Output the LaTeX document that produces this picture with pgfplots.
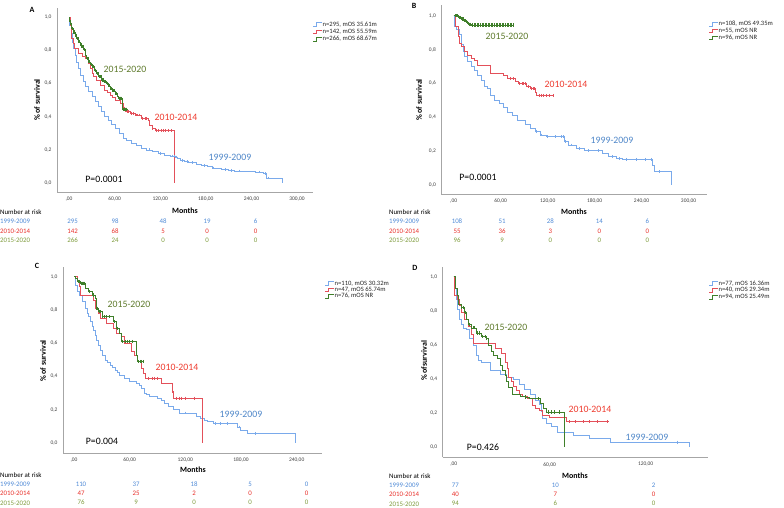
\documentclass[border=0pt]{standalone}
\usepackage{pgfplots}
\pgfplotsset{compat=1.18}
\usepackage{fontspec}
\setmainfont{Carlito}
\definecolor{lbl}{HTML}{7AAAEB}
\definecolor{lrd}{HTML}{E3505A}
\definecolor{lgr}{HTML}{3F7F2A}
\definecolor{tbl}{HTML}{4E86C8}
\definecolor{trd}{HTML}{EE3B2E}
\definecolor{tgr}{HTML}{5E7A2C}
\definecolor{rbl}{HTML}{4F8AD6}
\definecolor{rrd}{HTML}{E8302A}
\definecolor{rgr}{HTML}{7F9C3E}
\newcommand\fl{\fontsize{9.8}{11}\selectfont}
\newcommand\fr{\fontsize{6.9}{7.5}\selectfont}
\newcommand\fg{\fontsize{6.6}{7}\selectfont}
\newcommand\fa{\bfseries\fontsize{8}{9}\selectfont}
\newcommand\ft{\fontsize{5.5}{6}\selectfont}
\pgfplotsset{km/.style={scale only axis, axis lines=left,
  axis line style={-, draw=gray!70, line width=0.6pt},
  major tick length=0pt, tick style={draw=none},
  ticklabel style={font=\ft, text=black!75},
  ytick={0,0.2,0.4,0.6,0.8,1.0},
  yticklabels={{0,0},{0,2},{0,4},{0,6},{0,8},{1,0}},
  yticklabel style={xshift=-2pt},
  xticklabel style={yshift=-1.5pt}},
  kmb/.style={const plot, color=lbl, line width=0.6pt},
  kmr/.style={const plot, color=lrd, line width=0.6pt},
  kmg/.style={const plot, color=lgr, line width=0.6pt},
  cb/.style={only marks, mark=|, mark size=1.4pt, color=lbl, mark options={line width=0.5pt}},
  cr/.style={only marks, mark=|, mark size=1.4pt, color=lrd, mark options={line width=0.5pt}},
  cg/.style={only marks, mark=|, mark size=1.6pt, color=lgr, mark options={line width=0.7pt}}}
\begin{document}
\begin{tikzpicture}
\path[use as bounding box] (0,0) rectangle (784bp,-508bp);
% ---------------- A ----------------
\begin{axis}[km, at={(57bp,-192bp)}, anchor=south west, width=256bp, height=184bp,
  xmin=-15.8, xmax=321, ymin=-0.054, ymax=1.054,
  xtick={0,60,120,180,240,300}, xticklabels={{,00},{60,00},{120,00},{180,00},{240,00},{300,00}}]
\addplot[kmb] coordinates {(0,1.0)(1,0.95)(2.6,0.90)(4.4,0.85)(6,0.81)(7.9,0.77)(10,0.73)(12.3,0.69)(15,0.65)(18.9,0.61)(22,0.58)(25.4,0.55)(30,0.52)(34,0.49)(38.6,0.46)(43,0.43)(47,0.40)(52,0.38)(56,0.355)(60.5,0.33)(66,0.30)(71.5,0.27)(76,0.255)(82,0.24)(88,0.225)(95.6,0.21)(102,0.20)(109,0.19)(118,0.18)(126,0.17)(133,0.163)(139.5,0.157)(143,0.147)(146,0.137)(152,0.13)(157,0.122)(168,0.114)(174.6,0.106)(182,0.098)(188,0.09)(195,0.086)(201,0.082)(210,0.077)(218,0.072)(232,0.069)(245,0.066)(256,0.056)(260,0.03)(280,0)};
\addplot[kmr] coordinates {(0,1.0)(1.3,0.95)(2.5,0.91)(3.5,0.87)(5,0.84)(7,0.81)(12.3,0.78)(17,0.765)(21,0.75)(25.4,0.72)(28,0.69)(30,0.66)(32,0.64)(36,0.62)(41,0.59)(47,0.56)(50,0.545)(54,0.53)(57,0.515)(60.5,0.50)(67,0.48)(71.5,0.45)(74,0.43)(80,0.42)(87,0.41)(95.6,0.39)(104,0.38)(105.7,0.35)(109,0.33)(113,0.317)(138,0)};
\addplot[kmg] coordinates {(0,1.0)(1,0.975)(2,0.955)(3.5,0.93)(5,0.91)(7.9,0.89)(10,0.87)(12.3,0.85)(14.5,0.835)(16.7,0.82)(19,0.805)(21,0.79)(22,0.77)(23,0.75)(26,0.73)(28,0.715)(30,0.70)(33,0.68)(36,0.66)(39,0.64)(43,0.62)(46,0.61)(49.6,0.60)(52,0.585)(54,0.57)(57,0.555)(60.5,0.54)(63,0.525)(65,0.51)(70.5,0.445)(77,0.44)};
\addplot[cb] coordinates {(105,0.20)(120,0.18)(136,0.163)(138,0.163)(140,0.157)(141,0.157)(149,0.137)(155,0.13)(162,0.122)(178,0.106)(190,0.09)(205,0.082)(214,0.077)(224,0.072)(250,0.066)(258,0.056)(262,0.03)};
\addplot[cr] coordinates {(73,0.45)(76,0.43)(78,0.43)(82,0.42)(85,0.42)(88,0.41)(90,0.41)(93,0.41)(97,0.39)(100,0.39)(102,0.39)(110,0.33)(115,0.317)(118,0.317)(121,0.317)(124,0.317)(127,0.317)(131,0.317)(134,0.317)};
\addplot[cg] coordinates {(1.5,0.975)(2.5,0.955)(3,0.955)(4,0.93)(4.5,0.93)(6,0.91)(7,0.91)(8.5,0.89)(9.5,0.89)(11,0.87)(12,0.87)(13,0.85)(14,0.85)(15,0.835)(16,0.835)(17.5,0.82)(18.5,0.82)(20,0.805)(21.5,0.79)(24,0.75)(25,0.75)(27,0.73)(29,0.715)(31,0.70)(32,0.70)(34,0.68)(35,0.68)(37,0.66)(38,0.66)(40,0.64)(41,0.64)(42,0.64)(44,0.62)(45,0.62)(47,0.61)(48,0.61)(50,0.60)(51,0.60)(53,0.585)(55,0.57)(56,0.57)(58,0.555)(59,0.555)(61,0.54)(62,0.54)(64,0.525)(66,0.51)(67,0.51)(68,0.51)(69,0.51)(71.5,0.445)(73,0.445)(74,0.445)(75,0.445)(76,0.445)};
\end{axis}
% ---------------- B ----------------
\begin{axis}[km, at={(441.3bp,-194bp)}, anchor=south west, width=265.7bp, height=189bp,
  xmin=-15.8, xmax=323.5, ymin=-0.053, ymax=1.063,
  xtick={0,60,120,180,240,300}, xticklabels={{,00},{60,00},{120,00},{180,00},{240,00},{300,00}}]
\addplot[kmb] coordinates {(0,1.0)(1.3,0.94)(3.3,0.92)(7.5,0.89)(9.6,0.83)(11.7,0.79)(13.8,0.76)(18,0.73)(22,0.70)(26,0.68)(30.5,0.65)(34.7,0.62)(39,0.58)(43,0.57)(47,0.53)(51.5,0.50)(57.7,0.48)(64,0.46)(68,0.43)(74.5,0.41)(81,0.38)(91,0.36)(97.5,0.335)(104,0.315)(110,0.295)(118,0.285)(141,0.256)(146,0.236)(156,0.217)(166.5,0.203)(189.5,0.187)(198,0.167)(208,0.157)(215,0.152)(254,0.118)(256.5,0.079)(278,0)};
\addplot[kmr] coordinates {(0,1.0)(2,0.935)(5.4,0.876)(7.5,0.837)(9.6,0.817)(13.8,0.787)(18,0.768)(22,0.748)(26,0.738)(30.5,0.709)(47,0.66)(64,0.645)(68,0.63)(78.7,0.61)(83,0.60)(93,0.58)(98,0.57)(104,0.55)(106,0.53)(128,0.53)};
\addplot[kmg] coordinates {(0,1.0)(6,0.99)(10,0.98)(13,0.97)(16,0.96)(19,0.95)(22,0.945)(76,0.945)};
\addplot[cb] coordinates {(106,0.315)(112,0.295)(120,0.285)(130,0.285)(138,0.285)(140,0.285)(143,0.256)(150,0.236)(160,0.217)(172,0.203)(185,0.203)(203,0.167)(212,0.157)(220,0.152)(233,0.152)(245,0.152)(252,0.152)(262,0.079)};
\addplot[cr] coordinates {(72,0.63)(76,0.63)(84,0.60)(87,0.60)(89,0.60)(91,0.60)(95,0.58)(99,0.57)(101,0.57)(103,0.57)(109,0.53)(112,0.53)(115,0.53)(118,0.53)(122,0.53)(127,0.53)};
\addplot[cg] coordinates {(2,1.0)(4,1.0)(5,1.0)(7,0.99)(8,0.99)(9,0.99)(11,0.98)(12,0.98)(14,0.97)(15,0.97)(17,0.96)(18,0.96)(20,0.95)(21,0.95)(24,0.945)(26,0.945)(28,0.945)(30,0.945)(32,0.945)(34,0.945)(36,0.945)(38,0.945)(40,0.945)(42,0.945)(44,0.945)(46,0.945)(48,0.945)(50,0.945)(52,0.945)(54,0.945)(56,0.945)(58,0.945)(60,0.945)(62,0.945)(64,0.945)(66,0.945)(68,0.945)(70,0.945)(72,0.945)(74,0.945)(76,0.945)};
\end{axis}
% ---------------- C ----------------
\begin{axis}[km, at={(63bp,-453bp)}, anchor=south west, width=258.7bp, height=186.3bp,
  xmin=-11.9, xmax=267, ymin=-0.06, ymax=1.06,
  xtick={0,60,120,180,240}, xticklabels={{,00},{60,00},{120,00},{180,00},{240,00}}]
\addplot[kmb] coordinates {(0,1.0)(1.8,0.95)(3.5,0.91)(6,0.89)(8.8,0.85)(12.3,0.81)(14,0.78)(15.8,0.76)(17.5,0.73)(19.4,0.70)(21,0.675)(23,0.65)(24.5,0.62)(26.4,0.59)(28,0.56)(30,0.53)(33.5,0.50)(36,0.485)(38.7,0.47)(41,0.455)(44,0.44)(46.5,0.425)(49,0.41)(54.6,0.39)(60,0.37)(67,0.36)(70,0.345)(72,0.33)(75.7,0.30)(78,0.29)(81,0.28)(90,0.27)(94,0.255)(97,0.24)(102,0.22)(107,0.20)(114,0.18)(125,0.176)(132,0.16)(135.6,0.146)(140,0.138)(144,0.13)(150,0.116)(176,0.096)(179.6,0.076)(186.6,0.056)(239,0)};
\addplot[kmr] coordinates {(0,1.0)(3.5,0.97)(5.3,0.94)(7,0.89)(21,0.86)(23,0.81)(26.4,0.78)(28,0.75)(35,0.72)(42,0.69)(46,0.66)(51,0.64)(54.6,0.60)(61.6,0.55)(65,0.53)(68.7,0.49)(72,0.45)(75,0.42)(76.4,0.39)(94,0.36)(105.6,0.31)(107,0.27)(138,0)};
\addplot[kmg] coordinates {(0,1.0)(1.8,0.99)(3.5,0.97)(7,0.96)(12.3,0.93)(15.8,0.91)(19.4,0.89)(23,0.87)(23.6,0.81)(26.4,0.79)(30,0.76)(42,0.73)(46,0.69)(49,0.66)(51,0.61)(67,0.53)(68.7,0.49)(75,0.49)};
\addplot[cb] coordinates {(120,0.18)(152,0.116)(158,0.116)(165,0.116)(178,0.096)(195,0.056)};
\addplot[cr] coordinates {(80,0.39)(84,0.39)(86,0.39)(90,0.39)(106,0.31)(110,0.27)(113,0.27)(116,0.27)(120,0.27)(130,0.27)};
\addplot[cg] coordinates {(4.5,0.97)(5.5,0.97)(8,0.96)(9,0.96)(10,0.96)(11,0.96)(17,0.91)(21,0.89)(24.5,0.81)(25.5,0.81)(27,0.79)(28,0.79)(31,0.76)(33,0.76)(35,0.76)(38,0.76)(43,0.73)(47,0.69)(52,0.61)(55,0.61)(57,0.61)(60,0.61)(63,0.61)(69.5,0.49)(71,0.49)(73,0.49)(75,0.49)};
\end{axis}
% ---------------- D ----------------
\begin{axis}[km, at={(442.7bp,-457.3bp)}, anchor=south west, width=265.3bp, height=190bp,
  xmin=-6.9, xmax=159, ymin=-0.059, ymax=1.055,
  xtick={0,60,120}, xticklabels={{,00},{60,00},{120,00}}]
\addplot[kmb] coordinates {(0,1.0)(0.4,0.93)(1.5,0.87)(2.5,0.81)(3.6,0.75)(4.7,0.72)(5.7,0.70)(7.8,0.69)(10,0.64)(12,0.60)(14.2,0.54)(15.3,0.51)(17.4,0.50)(22.7,0.45)(29,0.43)(33,0.41)(37.5,0.40)(40.7,0.37)(44,0.34)(48,0.31)(51,0.275)(53.4,0.25)(54.5,0.21)(55.5,0.17)(57.6,0.14)(61,0.12)(65,0.09)(74.6,0.07)(85,0.05)(98,0.03)(147,0)};
\addplot[kmr] coordinates {(0,1.0)(0.4,0.89)(2.5,0.87)(3.6,0.83)(4.7,0.79)(6.8,0.75)(9,0.71)(11,0.66)(12,0.61)(25.8,0.58)(30,0.55)(32,0.50)(33.3,0.46)(34.3,0.41)(36,0.385)(37.5,0.36)(39,0.335)(40.7,0.31)(43,0.30)(46,0.285)(49,0.246)(51,0.23)(53.4,0.217)(55.5,0.19)(59.7,0.178)(70.3,0.15)(97,0.15)};
\addplot[kmg] coordinates {(0,1.0)(0.8,0.93)(2,0.89)(3,0.84)(4.7,0.82)(6.8,0.79)(7.8,0.75)(9,0.72)(11,0.70)(14.2,0.67)(17.4,0.65)(20.5,0.64)(21.6,0.60)(23.7,0.56)(25,0.54)(27,0.52)(29,0.48)(30.5,0.45)(32,0.42)(33,0.385)(34.3,0.35)(36.4,0.31)(41.7,0.30)(45,0.295)(47,0.285)(54.4,0.256)(56,0.23)(57.6,0.207)(69,0)};
\addplot[cb] coordinates {(140,0.03)};
\addplot[cr] coordinates {(72,0.15)(76,0.15)(81,0.15)(85,0.15)(90,0.15)(96,0.15)};
\addplot[cg] coordinates {(5,0.82)(6,0.82)(7.2,0.79)(9.5,0.72)(12,0.70)(13,0.70)(15,0.67)(16,0.67)(18,0.65)(19.5,0.65)(20.5,0.64)(45,0.295)(53,0.285)(59,0.207)(61,0.207)(63,0.207)(66,0.207)};
\end{axis}
% ---------------- annotations ----------------
\begin{scope}[x=1bp,y=-1bp]
% panel letters
\node[font=\fa] at (32,10) {A};
\node[font=\fa] at (414,6) {B};
\node[font=\fa] at (37,266) {C};
\node[font=\fa] at (415,268) {D};
% axis titles
\node[font=\fa, rotate=90] at (37,100) {\% of survival};
\node[font=\fa, rotate=90] at (419,100) {\% of survival};
\node[font=\fa, rotate=90] at (43,361) {\% of survival};
\node[font=\fa, rotate=90] at (424,361) {\% ofsurvival};
\node[font=\fa] at (185,211) {Months};
\node[font=\fa] at (574,212) {Months};
\node[font=\fa] at (193,470) {Months};
\node[font=\fa] at (575,476) {Months};
% curve labels
\node[font=\fl, text=tgr] at (125,69) {2015-2020};
\node[font=\fl, text=trd] at (176,117) {2010-2014};
\node[font=\fl, text=tbl] at (230,157) {1999-2009};
\node[font=\fl] at (104,179) {P=0.0001};
\node[font=\fl, text=tgr] at (507,36) {2015-2020};
\node[font=\fl, text=trd] at (566,84) {2010-2014};
\node[font=\fl, text=tbl] at (612,140) {1999-2009};
\node[font=\fl] at (478,177) {P=0.0001};
\node[font=\fl, text=tgr] at (129,304) {2015-2020};
\node[font=\fl, text=trd] at (177,367) {2010-2014};
\node[font=\fl, text=tbl] at (241,414) {1999-2009};
\node[font=\fl] at (102,441) {P=0.004};
\node[font=\fl, text=tgr] at (506,327) {2015-2020};
\node[font=\fl, text=trd] at (590,409) {2010-2014};
\node[font=\fl, text=tbl] at (647,437) {1999-2009};
\node[font=\fl] at (483,447) {P=0.426};
% legends
\foreach \lx/\ly/\c/\t in {313/24.3/lbl/{n=295, mOS 35.61m}, 313/31.7/lrd/{n=142, mOS 55.59m}, 313/39/lgr/{n=266, mOS 68.67m},
  709/24/lbl/{n=108, mOS 49.35m}, 709/30.6/lrd/{n=55, mOS NR}, 709/37.6/lgr/{n=96, mOS NR},
  325/283.3/lbl/{n=110, mOS 30.32m}, 325/289.6/lrd/{n=47, mOS 65.74m}, 325/296/lgr/{n=76, mOS NR},
  709/283.3/lbl/{n=77, mOS 16.36m}, 709/290.2/lrd/{n=40, mOS 29.34m}, 709/297.2/lgr/{n=94, mOS 25.49m}}{
  \draw[\c, line width=0.5pt] (\lx,\ly+1.8) -- (\lx+3,\ly+1.8) -- (\lx+3,\ly-1.8) -- (\lx+9,\ly-1.8);
  \node[font=\fg, anchor=west, inner sep=0pt, text=black!85] at (\lx+9.5,\ly) {\t};
}
% number at risk tables
\foreach \ox/\oy in {0/212, 389/212, 0/474.7, 389/475.7}{
  \node[font=\fr, anchor=west, inner sep=0pt] at (\ox,\oy) {Number at risk};
  \node[font=\fr, anchor=west, inner sep=0pt, text=rbl] at (\ox,\oy+9.5) {1999-2009};
  \node[font=\fr, anchor=west, inner sep=0pt, text=rrd] at (\ox,\oy+19) {2010-2014};
  \node[font=\fr, anchor=west, inner sep=0pt, text=rgr] at (\ox,\oy+28.7) {2015-2020};
}
\foreach \x/\a/\b/\c in {72.7/295/142/266, 115/98/68/24, 163/48/5/0, 207/19/0/0, 255.5/6/0/0}{
  \node[font=\fr, text=rbl] at (\x,221.5) {\a};
  \node[font=\fr, text=rrd] at (\x,231) {\b};
  \node[font=\fr, text=rgr] at (\x,240.7) {\c};
}
\foreach \x/\a/\b/\c in {457/108/55/96, 502/51/36/9, 550.3/28/3/0, 599.3/14/0/0, 647.3/6/0/0}{
  \node[font=\fr, text=rbl] at (\x,221.5) {\a};
  \node[font=\fr, text=rrd] at (\x,231) {\b};
  \node[font=\fr, text=rgr] at (\x,240.7) {\c};
}
\foreach \x/\a/\b/\c in {81/110/47/76, 136/37/25/9, 194/18/2/0, 250/5/0/0, 306.7/0/0/0}{
  \node[font=\fr, text=rbl] at (\x,484.2) {\a};
  \node[font=\fr, text=rrd] at (\x,493.5) {\b};
  \node[font=\fr, text=rgr] at (\x,502.7) {\c};
}
\foreach \x/\a/\b/\c in {455.3/77/40/94, 555.3/10/7/6, 653.7/2/0/0}{
  \node[font=\fr, text=rbl] at (\x,485.2) {\a};
  \node[font=\fr, text=rrd] at (\x,494.5) {\b};
  \node[font=\fr, text=rgr] at (\x,503.7) {\c};
}
\end{scope}
\end{tikzpicture}
\end{document}
